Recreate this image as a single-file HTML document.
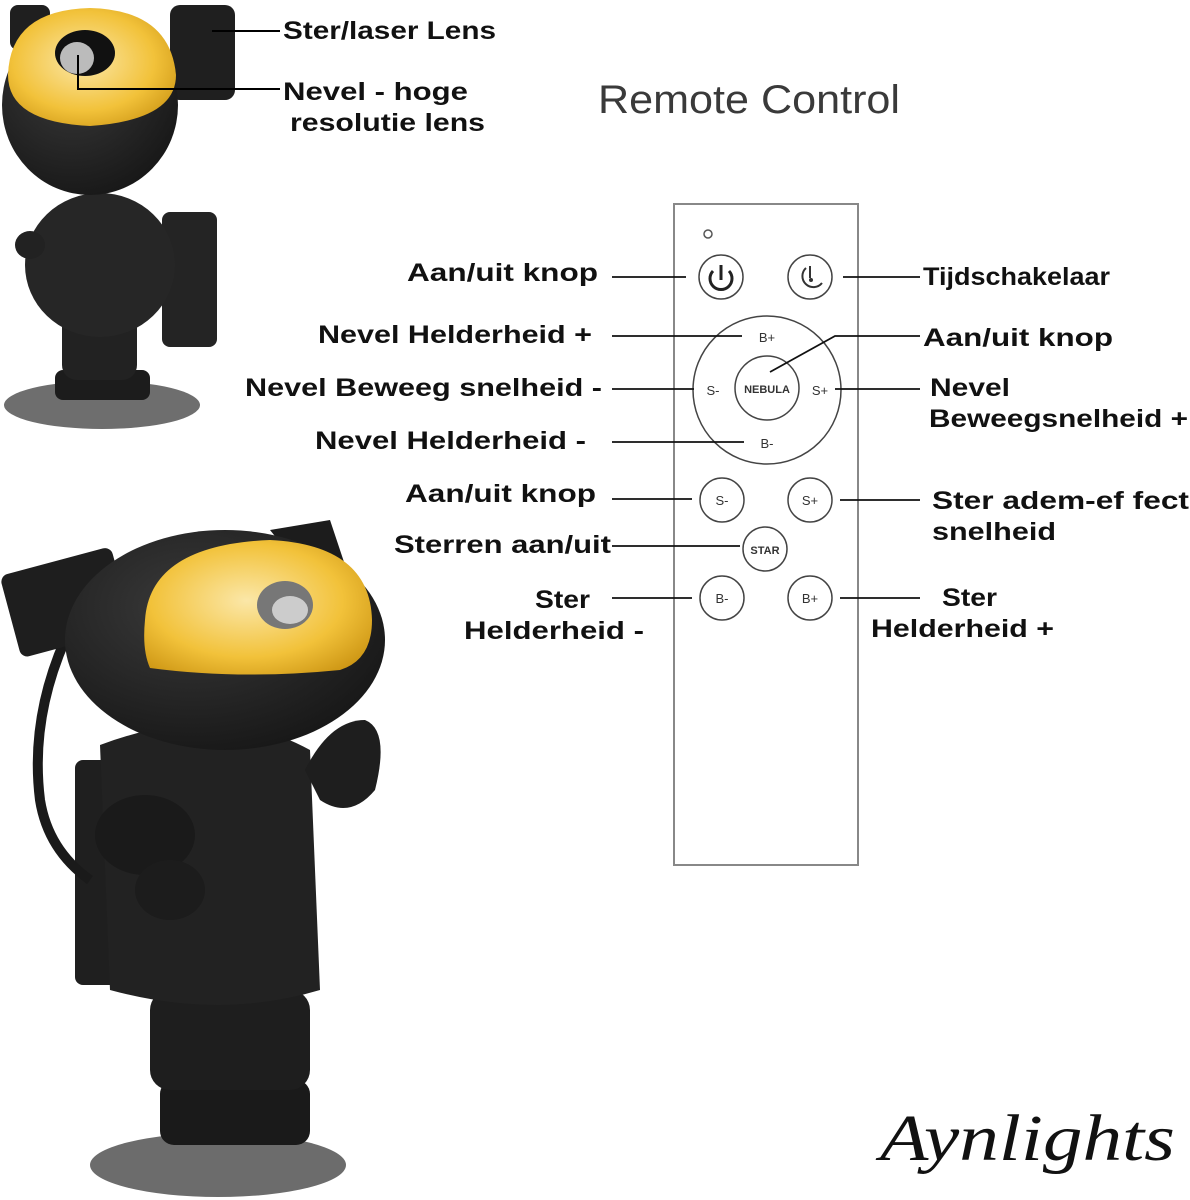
<!DOCTYPE html>
<html><head><meta charset="utf-8"><style>
html,body{margin:0;padding:0;background:#fff;}
svg{display:block}
.l{font-family:"Liberation Sans",sans-serif;font-weight:bold;font-size:25px;fill:#111;}
.b{font-family:"Liberation Sans",sans-serif;font-size:13px;fill:#333;}
</style></head><body>
<svg width="1190" height="1200" viewBox="0 0 1190 1200" xmlns="http://www.w3.org/2000/svg">
<defs>
<radialGradient id="vis" cx="0.45" cy="0.45" r="0.7"><stop offset="0" stop-color="#fbe7a8"/><stop offset="0.6" stop-color="#f2c23a"/><stop offset="1" stop-color="#c8900f"/></radialGradient>
<radialGradient id="blk" cx="0.4" cy="0.35" r="0.8"><stop offset="0" stop-color="#3a3a3a"/><stop offset="1" stop-color="#121212"/></radialGradient>
</defs>

<!-- Astronaut 1 -->
<ellipse cx="102" cy="405" rx="98" ry="24" fill="#6e6e6e"/>
<rect x="55" y="370" width="95" height="30" rx="8" fill="#1c1c1c"/>
<rect x="62" y="290" width="75" height="90" rx="15" fill="#222"/>
<rect x="162" y="212" width="55" height="135" rx="8" fill="#242424"/>
<ellipse cx="100" cy="265" rx="75" ry="72" fill="#262626"/>
<ellipse cx="30" cy="245" rx="15" ry="14" fill="#222"/>
<rect x="170" y="5" width="65" height="95" rx="10" fill="#1f1f1f"/>
<rect x="10" y="5" width="40" height="45" rx="8" fill="#1f1f1f"/>
<ellipse cx="90" cy="105" rx="88" ry="90" fill="url(#blk)"/>
<path d="M8 75 Q10 10 90 8 Q170 10 176 75 Q176 120 90 126 Q8 122 8 75 Z" fill="url(#vis)"/>
<ellipse cx="85" cy="53" rx="30" ry="23" fill="#111"/>
<ellipse cx="77" cy="58" rx="17" ry="16" fill="#bbb"/>

<!-- Astronaut 2 -->
<ellipse cx="218" cy="1165" rx="128" ry="32" fill="#6c6c6c"/>
<rect x="160" y="1080" width="150" height="65" rx="14" fill="#1a1a1a"/>
<rect x="150" y="990" width="160" height="100" rx="20" fill="#1e1e1e"/>
<rect x="75" y="760" width="60" height="225" rx="8" fill="#1f1f1f"/>
<path d="M100 745 Q220 700 310 750 L320 990 Q220 1020 110 990 Z" fill="#222"/>
<path d="M305 770 Q330 720 365 720 Q390 730 375 790 Q350 820 320 800 Z" fill="#1e1e1e"/>
<ellipse cx="145" cy="835" rx="50" ry="40" fill="#1a1a1a"/>
<ellipse cx="170" cy="890" rx="35" ry="30" fill="#1c1c1c"/>
<path d="M65 640 Q30 720 40 800 Q48 850 90 880" fill="none" stroke="#1a1a1a" stroke-width="10"/>
<rect x="8" y="560" width="115" height="85" rx="8" transform="rotate(-15 65 600)" fill="#1e1e1e"/>
<path d="M270 530 L330 520 L345 565 L310 580 Z" fill="#1c1c1c"/>
<ellipse cx="225" cy="640" rx="160" ry="110" fill="url(#blk)"/>
<path d="M145 620 Q150 545 270 540 Q370 545 372 620 Q372 660 340 670 Q240 680 150 668 Q142 650 145 620 Z" fill="url(#vis)"/>
<ellipse cx="285" cy="605" rx="28" ry="24" fill="#777"/>
<ellipse cx="290" cy="610" rx="18" ry="14" fill="#ccc"/>

<!-- Astronaut 1 callouts -->
<polyline points="212,31 280,31" stroke="#000" stroke-width="2" fill="none"/>
<polyline points="78,55 78,89 280,89" stroke="#000" stroke-width="2" fill="none"/>
<g class="l" style="font-size:25px" lengthAdjust="spacingAndGlyphs">
<text x="283" y="39" textLength="213" lengthAdjust="spacingAndGlyphs">Ster/laser Lens</text>
<text x="283" y="100" textLength="185" lengthAdjust="spacingAndGlyphs">Nevel - hoge</text>
<text x="290" y="131" textLength="195" lengthAdjust="spacingAndGlyphs">resolutie lens</text>
</g>

<!-- Title -->
<text x="598" y="113" font-family="Liberation Sans,sans-serif" font-size="40" fill="#3a3a3a" textLength="302" lengthAdjust="spacingAndGlyphs">Remote Control</text>

<!-- Remote -->
<rect x="674" y="204" width="184" height="661" fill="#fff" stroke="#888" stroke-width="2"/>
<circle cx="708" cy="234" r="4" fill="none" stroke="#555" stroke-width="1.5"/>
<g fill="none" stroke="#444" stroke-width="1.5">
<circle cx="721" cy="277" r="22"/><circle cx="810" cy="277" r="22"/>
<circle cx="767" cy="390" r="74"/><circle cx="767" cy="388" r="32"/>
<circle cx="722" cy="500" r="22"/><circle cx="810" cy="500" r="22"/>
<circle cx="765" cy="549" r="22"/>
<circle cx="722" cy="598" r="22"/><circle cx="810" cy="598" r="22"/>
</g>
<path d="M713 271 A11 11 0 1 0 729 271" fill="none" stroke="#222" stroke-width="3"/>
<line x1="721" y1="265" x2="721" y2="280" stroke="#222" stroke-width="3"/>
<path d="M806 268 A11 11 0 1 0 822 283" fill="none" stroke="#333" stroke-width="2"/>
<line x1="810" y1="266" x2="810" y2="278" stroke="#333" stroke-width="2"/><circle cx="811" cy="280" r="2" fill="#333"/>
<g class="b" text-anchor="middle">
<text x="767" y="342">B+</text><text x="713" y="395">S-</text><text x="820" y="395">S+</text><text x="767" y="448">B-</text>
<text x="722" y="505">S-</text><text x="810" y="505">S+</text><text x="722" y="603">B-</text><text x="810" y="603">B+</text>
</g>
<text x="767" y="393" text-anchor="middle" font-family="Liberation Sans,sans-serif" font-weight="bold" font-size="11" fill="#333">NEBULA</text>
<text x="765" y="554" text-anchor="middle" font-family="Liberation Sans,sans-serif" font-weight="bold" font-size="11" fill="#333">STAR</text>

<!-- Remote connectors -->
<g stroke="#111" stroke-width="1.8" fill="none">
<line x1="612" y1="277" x2="686" y2="277"/>
<line x1="843" y1="277" x2="920" y2="277"/>
<line x1="612" y1="336" x2="742" y2="336"/>
<polyline points="770,372 835,336 920,336"/>
<line x1="612" y1="389" x2="694" y2="389"/>
<line x1="835" y1="389" x2="920" y2="389"/>
<line x1="612" y1="442" x2="744" y2="442"/>
<line x1="612" y1="499" x2="692" y2="499"/>
<line x1="840" y1="500" x2="920" y2="500"/>
<line x1="612" y1="546" x2="740" y2="546"/>
<line x1="612" y1="598" x2="692" y2="598"/>
<line x1="840" y1="598" x2="920" y2="598"/>
</g>

<!-- Left labels -->
<g class="l">
<text x="407" y="281" textLength="191" lengthAdjust="spacingAndGlyphs">Aan/uit knop</text>
<text x="318" y="343" textLength="274" lengthAdjust="spacingAndGlyphs">Nevel Helderheid +</text>
<text x="245" y="396" textLength="357" lengthAdjust="spacingAndGlyphs">Nevel Beweeg snelheid -</text>
<text x="315" y="449" textLength="271" lengthAdjust="spacingAndGlyphs">Nevel Helderheid -</text>
<text x="405" y="502" textLength="191" lengthAdjust="spacingAndGlyphs">Aan/uit knop</text>
<text x="394" y="553" textLength="217" lengthAdjust="spacingAndGlyphs">Sterren aan/uit</text>
<text x="535" y="608" textLength="55" lengthAdjust="spacingAndGlyphs">Ster</text>
<text x="464" y="639" textLength="180" lengthAdjust="spacingAndGlyphs">Helderheid -</text>
</g>
<!-- Right labels -->
<g class="l">
<text x="923" y="285" textLength="187" lengthAdjust="spacingAndGlyphs">Tijdschakelaar</text>
<text x="923" y="346" textLength="190" lengthAdjust="spacingAndGlyphs">Aan/uit knop</text>
<text x="930" y="396" textLength="80" lengthAdjust="spacingAndGlyphs">Nevel</text>
<text x="929" y="427" textLength="259" lengthAdjust="spacingAndGlyphs">Beweegsnelheid +</text>
<text x="932" y="509" textLength="257" lengthAdjust="spacingAndGlyphs">Ster adem-ef  fect</text>
<text x="932" y="540" textLength="124" lengthAdjust="spacingAndGlyphs">snelheid</text>
<text x="942" y="606" textLength="55" lengthAdjust="spacingAndGlyphs">Ster</text>
<text x="871" y="637" textLength="183" lengthAdjust="spacingAndGlyphs">Helderheid +</text>
</g>

<text x="880" y="1160" font-family="Liberation Serif,serif" font-style="italic" font-size="66" fill="#111" textLength="295" lengthAdjust="spacingAndGlyphs">Aynlights</text>
</svg>
</body></html>
